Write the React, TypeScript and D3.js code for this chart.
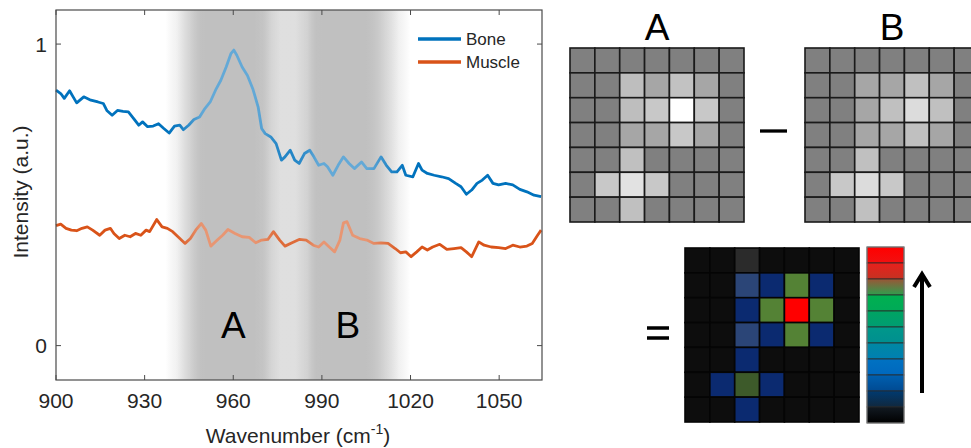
import * as d3 from 'd3';
import { useRef, useEffect } from 'react';

// spectra (wavenumber in cm-1, intensity in a.u.)
const boneWavenumber = [900, 901.6, 902.8, 904.6, 905.8, 907, 909.4, 911.8, 914.2, 916, 917.2, 919, 920.8, 922.7, 924.5, 926.3, 928, 929.3, 931, 932.9, 934.7, 936.5, 938.3, 940.1, 941.9, 943.1, 944.9, 946.7, 948.6, 950.4, 952.2, 954, 955.8, 957.6, 959.2, 960.2, 961.2, 963, 964.8, 966.6, 968.4, 969.6, 970.8, 972.7, 974.5, 976.3, 977.5, 979.3, 980.8, 982.3, 984.1, 985.9, 987.3, 988.9, 990.7, 991.9, 993.7, 995.5, 997.3, 999.2, 1001, 1003.4, 1005.2, 1007.6, 1010, 1011.8, 1013.6, 1015.4, 1017.2, 1018.4, 1020.8, 1022.7, 1023.9, 1025.7, 1028, 1030.5, 1032.9, 1035.3, 1037.1, 1038.9, 1040.7, 1042.5, 1044.3, 1046.1, 1047.9, 1049.8, 1052.2, 1054.6, 1057, 1059.4, 1061.8, 1064.2];
const boneIntensity = [0.847, 0.836, 0.82, 0.845, 0.825, 0.805, 0.825, 0.814, 0.808, 0.803, 0.78, 0.764, 0.78, 0.777, 0.775, 0.753, 0.731, 0.742, 0.726, 0.728, 0.736, 0.72, 0.705, 0.728, 0.731, 0.716, 0.731, 0.75, 0.758, 0.786, 0.808, 0.847, 0.88, 0.924, 0.968, 0.98, 0.963, 0.924, 0.896, 0.852, 0.792, 0.72, 0.703, 0.692, 0.67, 0.615, 0.626, 0.648, 0.615, 0.604, 0.637, 0.648, 0.626, 0.598, 0.604, 0.593, 0.565, 0.598, 0.626, 0.604, 0.587, 0.609, 0.587, 0.587, 0.626, 0.598, 0.576, 0.576, 0.598, 0.565, 0.56, 0.604, 0.582, 0.571, 0.565, 0.56, 0.554, 0.538, 0.527, 0.502, 0.516, 0.538, 0.549, 0.565, 0.538, 0.533, 0.538, 0.533, 0.518, 0.51, 0.499, 0.494];

const muscleWavenumber = [900, 901.6, 903.4, 905.2, 907, 908.8, 910.6, 912.4, 914.8, 916.6, 918.4, 919.6, 921.4, 923.3, 925.1, 926.9, 928.7, 930.5, 931.7, 934.1, 935.9, 937.7, 939.5, 941.3, 943.7, 945.5, 947.3, 949.2, 950.7, 952.4, 954.6, 956.4, 958.2, 960.6, 963, 965.4, 967.6, 969.6, 971.7, 973.6, 975.7, 977.5, 979.9, 982.3, 984.7, 987.1, 988.9, 990.7, 992.5, 994.3, 996.1, 997.3, 998.5, 1000.4, 1002.8, 1005.2, 1007.6, 1010, 1012.4, 1014.8, 1016.6, 1018.4, 1020.2, 1022.1, 1023.9, 1025.7, 1027.5, 1029.9, 1032.3, 1034.7, 1037.1, 1038.9, 1040.7, 1043.1, 1044.9, 1047.3, 1049.8, 1052.2, 1054.6, 1057, 1059.4, 1061.2, 1063, 1064.2];
const muscleIntensity = [0.398, 0.403, 0.389, 0.383, 0.381, 0.389, 0.394, 0.383, 0.366, 0.383, 0.389, 0.372, 0.355, 0.366, 0.361, 0.372, 0.366, 0.383, 0.378, 0.418, 0.394, 0.389, 0.378, 0.361, 0.339, 0.355, 0.383, 0.405, 0.383, 0.33, 0.35, 0.366, 0.385, 0.372, 0.361, 0.359, 0.341, 0.35, 0.352, 0.378, 0.35, 0.33, 0.341, 0.352, 0.35, 0.333, 0.327, 0.344, 0.327, 0.311, 0.35, 0.407, 0.411, 0.366, 0.355, 0.35, 0.339, 0.341, 0.339, 0.322, 0.308, 0.311, 0.295, 0.311, 0.327, 0.317, 0.327, 0.336, 0.319, 0.322, 0.325, 0.311, 0.295, 0.344, 0.333, 0.327, 0.325, 0.322, 0.333, 0.327, 0.33, 0.339, 0.366, 0.383];

const seriesNames = ['Bone', 'Muscle'];
const seriesColors = ['#0072BD', '#D95319'];
const xTicks = [900, 930, 960, 990, 1020, 1050];
const yTicks = [0, 1];

// shaded wavenumber windows A and B (relative shade strength)
const shadeWavenumber = [937, 941, 945, 949, 951, 967, 970, 973, 976, 981, 985, 988, 990, 1005, 1008, 1012, 1016, 1020];
const shadeLevel = [0, 0.15, 0.5, 0.95, 1, 1, 0.85, 0.5, 0.36, 0.36, 0.55, 0.95, 1, 1, 0.8, 0.45, 0.15, 0];
const bandNames = ['A', 'B'];
const bandCenters = [960, 998.8];

// 7x7 intensity images (gray level 0-255)
const imageA = [
  [128, 128, 128, 128, 128, 128, 128],
  [128, 128, 190, 166, 194, 166, 128],
  [128, 128, 190, 200, 255, 200, 128],
  [128, 128, 166, 166, 200, 166, 128],
  [128, 128, 192, 128, 128, 128, 128],
  [128, 200, 226, 200, 128, 128, 128],
  [128, 128, 192, 128, 128, 128, 128],
];
const imageB = [
  [128, 128, 128, 128, 128, 128, 128],
  [128, 128, 166, 166, 192, 166, 128],
  [128, 128, 166, 192, 220, 192, 128],
  [128, 128, 166, 166, 192, 166, 128],
  [128, 128, 192, 128, 128, 128, 128],
  [128, 200, 220, 200, 128, 128, 128],
  [128, 128, 192, 128, 128, 128, 128],
];
// difference image, as colour class
const diffImage = [
  [0, 0, 1, 0, 0, 0, 0],
  [0, 0, 3, 2, 5, 2, 0],
  [0, 0, 2, 5, 6, 5, 0],
  [0, 0, 3, 2, 5, 2, 0],
  [0, 0, 2, 0, 0, 0, 0],
  [0, 2, 4, 2, 0, 0, 0],
  [0, 0, 2, 0, 0, 0, 0],
];
const diffColors = ['#0d0d0d', '#2b2b2b', '#0b2a70', '#2b4577', '#3d5a2a', '#548235', '#ff0000'];

// colour bar segments, top to bottom
const barTop = ['#ff0000', '#e8201c', '#9a5636', '#00b050', '#00a462', '#00988a', '#0088a2', '#0072c2', '#0060b0', '#003a70', '#121a22'];
const barBottom = ['#f21010', '#c43222', '#2f9e4e', '#00aa58', '#009c72', '#008f90', '#007fb2', '#0068be', '#004a92', '#10283e', '#000000'];

export default function App() {
  const ref = useRef<SVGSVGElement>(null);

  useEffect(() => {
    const svg = d3.select(ref.current);
    svg.selectAll('*').remove();

    const font = '"Liberation Sans", Arial, Helvetica, sans-serif';
    const ink = '#262626';

    const x = d3.scaleLinear().domain([900, 1064.5]).range([56, 542]);
    const y = d3.scaleLinear().domain([-0.114, 1.113]).range([380, 10]);
    const [x0, x1] = x.range();
    const [yb, yt] = y.range();

    const defs = svg.append('defs');
    const makeBand = (id: string, color: string, k: number) => {
      const g = defs.append('linearGradient')
        .attr('id', id)
        .attr('gradientUnits', 'userSpaceOnUse')
        .attr('x1', x0).attr('x2', x1).attr('y1', 0).attr('y2', 0);
      shadeWavenumber.forEach((w, i) => {
        g.append('stop')
          .attr('offset', (x(w) - x0) / (x1 - x0))
          .attr('stop-color', color)
          .attr('stop-opacity', shadeLevel[i] * k);
      });
    };
    makeBand('bandUnder', '#989898', 1);
    makeBand('bandOver', '#ffffff', 0.39);

    // gray windows under the lines
    svg.append('rect')
      .attr('x', x0).attr('y', yt).attr('width', x1 - x0).attr('height', yb - yt)
      .attr('fill', 'url(#bandUnder)');

    const line = d3.line<[number, number]>()
      .x(d => x(d[0]))
      .y(d => y(d[1]));

    const series = [
      d3.zip(boneWavenumber, boneIntensity) as [number, number][],
      d3.zip(muscleWavenumber, muscleIntensity) as [number, number][],
    ];
    series.forEach((s, i) => {
      svg.append('path')
        .datum(s)
        .attr('fill', 'none')
        .attr('stroke', seriesColors[i])
        .attr('stroke-width', 2.8)
        .attr('stroke-linejoin', 'round')
        .attr('d', line);
    });

    // lighter veil on top, so the lines look faded in the windows
    svg.append('rect')
      .attr('x', x0).attr('y', yt).attr('width', x1 - x0).attr('height', yb - yt)
      .attr('fill', 'url(#bandOver)');

    // axes box + inward ticks
    svg.append('rect')
      .attr('x', x0).attr('y', yt).attr('width', x1 - x0).attr('height', yb - yt)
      .attr('fill', 'none').attr('stroke', '#4a4a4a').attr('stroke-width', 1.2);

    xTicks.forEach(t => {
      svg.append('line').attr('x1', x(t)).attr('x2', x(t)).attr('y1', yb).attr('y2', yb - 5)
        .attr('stroke', '#4a4a4a');
      svg.append('line').attr('x1', x(t)).attr('x2', x(t)).attr('y1', yt).attr('y2', yt + 5)
        .attr('stroke', '#4a4a4a');
      svg.append('text')
        .attr('x', x(t)).attr('y', 408)
        .attr('text-anchor', 'middle')
        .attr('font-family', font).attr('font-size', 21).attr('fill', ink)
        .text(t);
    });
    yTicks.forEach(t => {
      svg.append('line').attr('x1', x0).attr('x2', x0 + 5).attr('y1', y(t)).attr('y2', y(t))
        .attr('stroke', '#4a4a4a');
      svg.append('line').attr('x1', x1).attr('x2', x1 - 5).attr('y1', y(t)).attr('y2', y(t))
        .attr('stroke', '#4a4a4a');
      svg.append('text')
        .attr('x', 47).attr('y', y(t) + 7.5)
        .attr('text-anchor', 'end')
        .attr('font-family', font).attr('font-size', 21).attr('fill', ink)
        .text(t);
    });

    // axis labels
    svg.append('text')
      .attr('transform', 'translate(28,192) rotate(-90)')
      .attr('text-anchor', 'middle')
      .attr('font-family', font).attr('font-size', 21).attr('fill', ink)
      .text('Intensity (a.u.)');

    const xl = svg.append('text')
      .attr('x', 298).attr('y', 443)
      .attr('text-anchor', 'middle')
      .attr('font-family', font).attr('font-size', 21).attr('fill', ink);
    xl.append('tspan').text('Wavenumber (cm');
    xl.append('tspan').attr('dy', -9).attr('font-size', 14).text('-1');
    xl.append('tspan').attr('dy', 9).text(')');

    // window letters
    bandNames.forEach((n, i) => {
      svg.append('text')
        .attr('x', x(bandCenters[i])).attr('y', 338)
        .attr('text-anchor', 'middle')
        .attr('font-family', font).attr('font-size', 37).attr('fill', '#000')
        .text(n);
    });

    // legend
    seriesNames.forEach((n, i) => {
      const ly = 39 + i * 23;
      svg.append('line').attr('x1', 418).attr('x2', 461).attr('y1', ly).attr('y2', ly)
        .attr('stroke', seriesColors[i]).attr('stroke-width', 3.5);
      svg.append('text')
        .attr('x', 466).attr('y', ly + 6)
        .attr('font-family', font).attr('font-size', 17).attr('fill', ink)
        .text(n);
    });

    // ----- right panel: pixel images -----
    const idx = d3.range(7);
    const drawImage = (data: number[][], left: number, top: number, fill: (v: number) => string, edge: string) => {
      const bx = d3.scaleBand<number>().domain(idx).range([left, left + 174]);
      const by = d3.scaleBand<number>().domain(idx).range([top, top + 174]);
      const g = svg.append('g');
      data.forEach((row, r) => row.forEach((v, c) => {
        g.append('rect')
          .attr('x', bx(c)!).attr('y', by(r)!)
          .attr('width', bx.bandwidth()).attr('height', by.bandwidth())
          .attr('fill', fill(v))
          .attr('stroke', edge).attr('stroke-width', 1.6);
      }));
    };
    const gray = (v: number) => d3.rgb(v, v, v).formatHex();
    drawImage(imageA, 570, 48, gray, '#1a1a1a');
    drawImage(imageB, 805, 48, gray, '#1a1a1a');
    drawImage(diffImage, 685, 248, v => diffColors[v], '#050505');

    svg.append('text').attr('x', 657).attr('y', 40).attr('text-anchor', 'middle')
      .attr('font-family', font).attr('font-size', 37).attr('fill', '#000').text('A');
    svg.append('text').attr('x', 892).attr('y', 40).attr('text-anchor', 'middle')
      .attr('font-family', font).attr('font-size', 37).attr('fill', '#000').text('B');

    // minus and equals
    svg.append('line').attr('x1', 760).attr('x2', 787).attr('y1', 131).attr('y2', 131)
      .attr('stroke', '#000').attr('stroke-width', 3.3);
    [328, 338].forEach(ey => {
      svg.append('line').attr('x1', 647).attr('x2', 669).attr('y1', ey).attr('y2', ey)
        .attr('stroke', '#000').attr('stroke-width', 3.5);
    });

    // colour bar
    const segs = d3.range(barTop.length);
    const cb = d3.scaleBand<number>().domain(segs).range([247, 423]);
    segs.forEach(i => {
      const g = defs.append('linearGradient').attr('id', `cb${i}`)
        .attr('x1', 0).attr('x2', 0).attr('y1', 0).attr('y2', 1);
      g.append('stop').attr('offset', 0).attr('stop-color', barTop[i]);
      g.append('stop').attr('offset', 1).attr('stop-color', barBottom[i]);
      svg.append('rect')
        .attr('x', 867).attr('y', cb(i)!).attr('width', 37).attr('height', cb.bandwidth())
        .attr('fill', `url(#cb${i})`)
        .attr('stroke', '#2a2a2a').attr('stroke-width', 0.8);
    });
    svg.append('rect').attr('x', 867).attr('y', 247).attr('width', 37).attr('height', 176)
      .attr('fill', 'none').attr('stroke', '#8a8a8a').attr('stroke-width', 1);

    // arrow
    svg.append('line').attr('x1', 922).attr('x2', 922).attr('y1', 393).attr('y2', 275)
      .attr('stroke', '#000').attr('stroke-width', 4);
    svg.append('path').attr('d', 'M914,287 L922,274 L930,287')
      .attr('fill', 'none').attr('stroke', '#000').attr('stroke-width', 4);
  }, []);

  return (
    <svg ref={ref} width={971} height={448}
      style={{ position: 'absolute', left: 0, top: 0, display: 'block', background: '#fff' }} />
  );
}
